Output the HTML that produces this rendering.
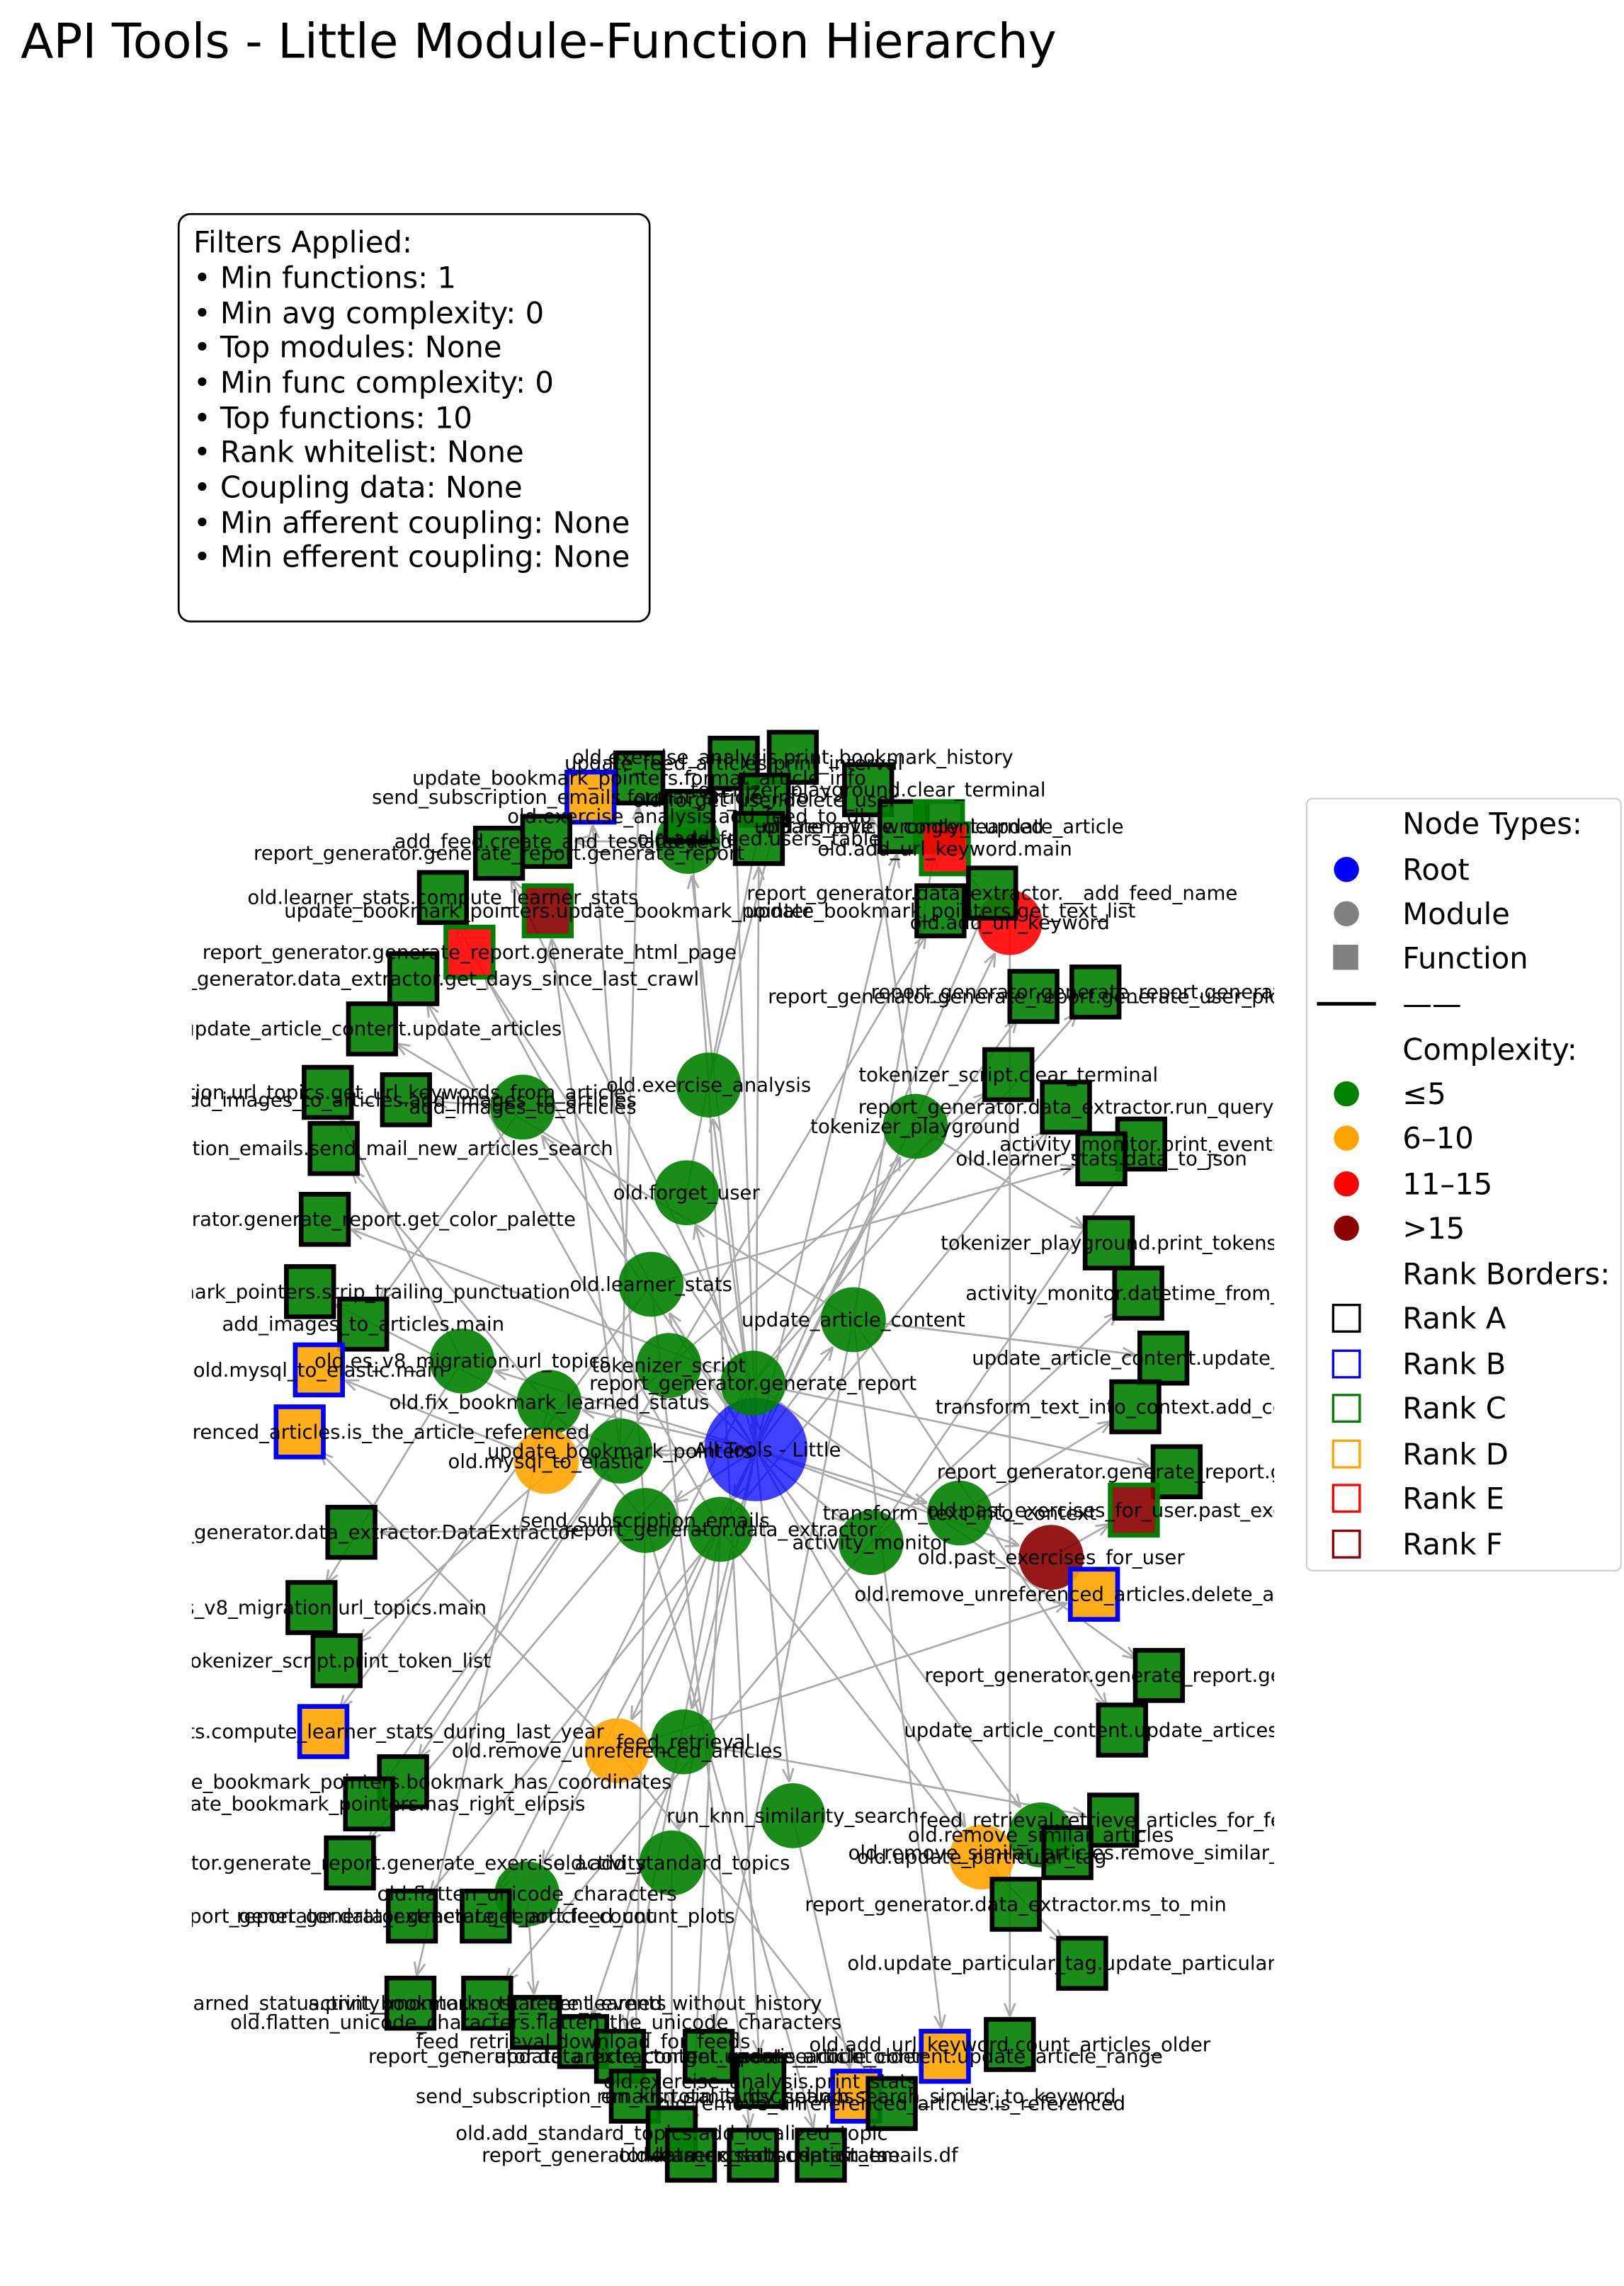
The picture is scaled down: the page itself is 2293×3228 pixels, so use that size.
<!DOCTYPE html>
<html><head><meta charset="utf-8">
<style>
html,body{margin:0;padding:0;background:#fff}
svg{display:block}
text{font-family:"DejaVu Sans","Liberation Sans",sans-serif}
</style></head>
<body>
<svg id="chart" width="2293" height="3228" viewBox="0 0 1100 1548.6" preserveAspectRatio="none" xmlns="http://www.w3.org/2000/svg">
<defs>
<clipPath id="axclip"><rect x="130" y="470" width="733" height="1040"/></clipPath>
<marker id="arr" viewBox="0 0 10 10" refX="10" refY="5" markerWidth="7" markerHeight="7" orient="auto"><path d="M0,1 L10,5 L0,9" fill="none" stroke="#aaa" stroke-width="1.5"/></marker>
</defs>
<text x="14" y="39" font-size="32.5" fill="#000">API Tools - Little Module-Function Hierarchy</text>

<g>
<rect x="121" y="145" width="319" height="276" rx="8" fill="#fff" stroke="#000" stroke-width="1.3"/>
<text x="131" y="171" font-size="20">Filters Applied:</text>
<text x="131" y="195" font-size="20">• Min functions: 1</text>
<text x="131" y="219" font-size="20">• Min avg complexity: 0</text>
<text x="131" y="242" font-size="20">• Top modules: None</text>
<text x="131" y="266" font-size="20">• Min func complexity: 0</text>
<text x="131" y="290" font-size="20">• Top functions: 10</text>
<text x="131" y="313" font-size="20">• Rank whitelist: None</text>
<text x="131" y="337" font-size="20">• Coupling data: None</text>
<text x="131" y="361" font-size="20">• Min afferent coupling: None</text>
<text x="131" y="384" font-size="20">• Min efferent coupling: None</text>
</g>

<g id="graph" clip-path="url(#axclip)">
<g id="edges"></g>
<g id="nodes"></g>
<g id="labels"></g>
</g>

<g transform="translate(-12,-4)">
<rect x="897" y="545" width="213" height="523" rx="4" fill="#fff" stroke="#ccc" stroke-width="1"/>
<text x="962" y="569" font-size="20">Node Types:</text>
<circle cx="924" cy="593" r="8.5" fill="#0000ff"/><text x="962" y="600" font-size="20">Root</text>
<circle cx="924" cy="623" r="8.5" fill="#808080"/><text x="962" y="630" font-size="20">Module</text>
<rect x="915" y="644" width="17" height="17" fill="#808080"/><text x="962" y="660" font-size="20">Function</text>
<line x1="904" y1="684" x2="944" y2="684" stroke="#000" stroke-width="2.5"/><text x="962" y="691" font-size="20">——</text>
<text x="962" y="722" font-size="20">Complexity:</text>
<circle cx="924" cy="745" r="8.5" fill="#008000"/><text x="962" y="752" font-size="20">≤5</text>
<circle cx="924" cy="775" r="8.5" fill="#ffa500"/><text x="962" y="782" font-size="20">6–10</text>
<circle cx="924" cy="806" r="8.5" fill="#ff0000"/><text x="962" y="813" font-size="20">11–15</text>
<circle cx="924" cy="836" r="8.5" fill="#8b0000"/><text x="962" y="843" font-size="20">&gt;15</text>
<text x="962" y="874" font-size="20">Rank Borders:</text>
<rect x="915" y="888" width="18" height="18" fill="none" stroke="#000" stroke-width="1.6"/><text x="962" y="904" font-size="20">Rank A</text>
<rect x="915" y="919" width="18" height="18" fill="none" stroke="#0000ff" stroke-width="1.6"/><text x="962" y="935" font-size="20">Rank B</text>
<rect x="915" y="949" width="18" height="18" fill="none" stroke="#008000" stroke-width="1.6"/><text x="962" y="965" font-size="20">Rank C</text>
<rect x="915" y="980" width="18" height="18" fill="none" stroke="#ffa500" stroke-width="1.6"/><text x="962" y="996" font-size="20">Rank D</text>
<rect x="915" y="1010" width="18" height="18" fill="none" stroke="#ff0000" stroke-width="1.6"/><text x="962" y="1026" font-size="20">Rank E</text>
<rect x="915" y="1041" width="18" height="18" fill="none" stroke="#8b0000" stroke-width="1.6"/><text x="962" y="1057" font-size="20">Rank F</text>
</g>
</svg>
<script>
const rootNode = ["Little", 512, 982];
const moduleNames = ["old.exercise_analysis","old.forget_user","old.learner_stats","update_article_content","tokenizer_script","report_generator.generate_report","old.es_v8_migration.url_topics","old.fix_bookmark_learned_status","update_bookmark_pointers","old.mysql_to_elastic","transform_text_into_context","send_subscription_emails","report_generator.data_extractor","activity_monitor","old.past_exercises_for_user","tokenizer_playground","add_images_to_articles","add_feed","old.add_url_keyword","old.remove_unreferenced_articles","feed_retrieval","run_knn_similarity_search","old.update_particular_tag","old.add_standard_topics","old.flatten_unicode_characters","old.remove_similar_articles"];
const moduleX = [480,465,441,578,453,510,313,372,420,370,650,437,488,590,712,620,354,466,684,418,463,537,665,455,357,705];
const moduleY = [735,808,870,894,925,937,922,950,983,990,1025,1030,1036,1045,1055,763,750,570,625,1186,1180,1230,1258,1262,1283,1243];
const moduleComplexity = ["g","g","g","g","g","g","g","g","g","o","g","g","g","g","d","g","g","g","r","o","g","g","o","g","g","g"];

const funcNames = ["old.exercise_analysis.print_bookmark_history","update_feed_articles.print_interval","update_bookmark_pointers.format_article_info","send_subscription_emails.format_article_info","tokenizer_playground.clear_terminal","old.exercise_analysis.add_feed_to_db","old.forget_user.delete_user","old.remove_wrongly_learned","add_feed.create_and_test_feed","report_generator.generate_report.generate_report","old.add_feed.users_table","update_article_content.update_article","old.add_url_keyword.main","report_generator.data_extractor.__add_feed_name","update_bookmark_pointers.get_text_list","old.learner_stats.compute_learner_stats","update_bookmark_pointers.update_bookmark_pointer","report_generator.generate_report.generate_html_page","report_generator.data_extractor.get_days_since_last_crawl","update_article_content.update_articles","report_generator.generate_report.generate_user_plots","report_generator.generate_report.generate_bl","tokenizer_script.clear_terminal","report_generator.data_extractor.run_query","activity_monitor.print_events","old.learner_stats.data_to_json","old.es_v8_migration.url_topics.get_url_keywords_from_article","add_images_to_articles.add_images_to_articles","send_subscription_emails.send_mail_new_articles_search","report_generator.generate_report.get_color_palette","tokenizer_playground.print_tokens","activity_monitor.datetime_from_utc","update_bookmark_pointers.strip_trailing_punctuation","add_images_to_articles.main","old.mysql_to_elastic.main","update_article_content.update_content","transform_text_into_context.add_context","old.remove_unreferenced_articles.is_the_article_referenced","report_generator.generate_report.generate_topic","old.past_exercises_for_user.past_exercises","report_generator.data_extractor.DataExtractor","old.remove_unreferenced_articles.delete_articles","old.es_v8_migration.url_topics.main","tokenizer_script.print_token_list","report_generator.generate_report.generate_plot","update_article_content.update_artices_in_db","old.learner_stats.compute_learner_stats_during_last_year","update_bookmark_pointers.bookmark_has_coordinates","update_bookmark_pointers.has_right_elipsis","feed_retrieval.retrieve_articles_for_feed","old.remove_similar_articles.remove_similar_t","report_generator.generate_report.generate_exercise_activity","report_generator.data_extractor.ms_to_min","report_generator.data_extractor.get_article_count","report_generator.generate_report.feed_count_plots","old.update_particular_tag.update_particular_tag","old.fix_bookmark_learned_status.print_bookmarks_that_are_learned_without_history","activity_monitor.most_recent_events","old.flatten_unicode_characters.flatten_the_unicode_characters","feed_retrieval.download_for_feeds","report_generator.data_extractor.get_exercise_count","update_article_content.update_article_older","update_article_content.update_article_range","old.add_url_keyword.count_articles_older","run_knn_similarity_search.search_similar_to_keyword","old.exercise_analysis.print_stats","send_subscription_emails.total_subscriptions","old.remove_unreferenced_articles.is_referenced","old.add_standard_topics.add_localized_topic","report_generator.data_extractor.dataframe","old.learner_stats.user_stats","send_subscription_emails.df"];
const funcX = [537,497,433,400,588,467,518,612,370,338,514,636,640,672,637,300,371,318,280,252,700,742,683,722,773,746,222,275,226,220,751,771,210,246,216,788,769,203,797,768,238,741,211,228,785,760,219,273,250,754,723,237,688,279,329,733,278,330,363,395,420,480,640,684,580,515,430,604,455,468,510,556];
const funcY = [513,517,527,540,535,553,542,560,570,578,568,560,575,605,617,608,617,645,663,697,675,672,728,750,775,785,740,745,778,826,842,876,875,897,928,920,953,970,997,1023,1038,1080,1089,1125,1135,1172,1173,1207,1222,1233,1255,1262,1290,1298,1298,1330,1357,1357,1370,1383,1393,1393,1393,1385,1420,1410,1420,1425,1445,1460,1460,1460];
const funcFill = ["g","g","g","o","g","g","g","g","g","g","g","g","r","g","g","g","d","r","g","g","g","g","g","g","g","g","g","g","g","g","g","g","g","g","o","g","g","o","g","d","g","o","g","g","g","g","o","g","g","g","g","g","g","g","g","g","g","g","g","g","g","g","o","g","o","g","g","g","g","g","g","g"];
const funcRank = ["A","A","A","B","A","A","A","A","A","A","A","C","C","A","A","A","C","C","A","A","A","A","A","A","A","A","A","A","A","A","A","A","A","A","B","A","A","B","A","C","A","B","A","A","A","A","B","A","A","A","A","A","A","A","A","A","A","A","A","A","A","A","B","A","B","A","A","A","A","A","A","A"];

const fillCol = {g:"#008000",o:"#ffa500",r:"#ff0000",d:"#8b0000"};
const rankCol = {A:"#000000",B:"#0000ff",C:"#008000",D:"#ffa500",E:"#ff0000",F:"#8b0000"};
const NS = "http://www.w3.org/2000/svg";
const eG = document.getElementById('edges'), nG = document.getElementById('nodes'), lG = document.getElementById('labels');

function mk(tag, attrs, parent){const el=document.createElementNS(NS,tag);for(const k in attrs)el.setAttribute(k,attrs[k]);parent.appendChild(el);return el;}
function edge(x1,y1,x2,y2,r){
  const dx=x2-x1, dy=y2-y1, d=Math.hypot(dx,dy)||1;
  const l = mk('line',{x1:x1,y1:y1,x2:x2-dx/d*r,y2:y2-dy/d*r,stroke:"#aaa","stroke-width":1.3,"marker-end":"url(#arr)"},eG);
  
  
}
function label(t,x,y){
  const tx = mk('text',{x:x,y:y+4.5,"font-size":13.2,"text-anchor":"middle",fill:"#000"},lG);
  tx.textContent=t;
  
  
}
for(let i=0;i<moduleNames.length;i++) edge(rootNode[1],rootNode[2],moduleX[i],moduleY[i],23);
for(let i=0;i<funcNames.length;i++){
  let best=-1, bl=0;
  for(let j=0;j<moduleNames.length;j++){
    if(funcNames[i].startsWith(moduleNames[j]+".") && moduleNames[j].length>bl){best=j;bl=moduleNames[j].length;}
  }
  let px, py;
  if(best<0){px=rootNode[1];py=rootNode[2];}else{px=moduleX[best];py=moduleY[best];}
  edge(px,py,funcX[i],funcY[i],19);
}
const rc = mk('circle',{cx:rootNode[1],cy:rootNode[2],r:35,fill:"#0000ff","fill-opacity":0.75},nG);


for(let i=0;i<moduleNames.length;i++){
  const c = mk('circle',{cx:moduleX[i],cy:moduleY[i],r:22,fill:fillCol[moduleComplexity[i]],"fill-opacity":0.9},nG);
  
  
}
for(let i=0;i<funcNames.length;i++){
  const s = mk('rect',{x:funcX[i]-16,y:funcY[i]-17,width:32,height:34,fill:fillCol[funcFill[i]],"fill-opacity":0.9,stroke:rankCol[funcRank[i]],"stroke-width":3.2},nG);
  
  
}
label("All Tools - Little",rootNode[1]+8,rootNode[2]);
for(let i=0;i<moduleNames.length;i++) label(moduleNames[i],moduleX[i],moduleY[i]);
for(let i=0;i<funcNames.length;i++) label(funcNames[i],funcX[i],funcY[i]);
</script>
</body></html>
